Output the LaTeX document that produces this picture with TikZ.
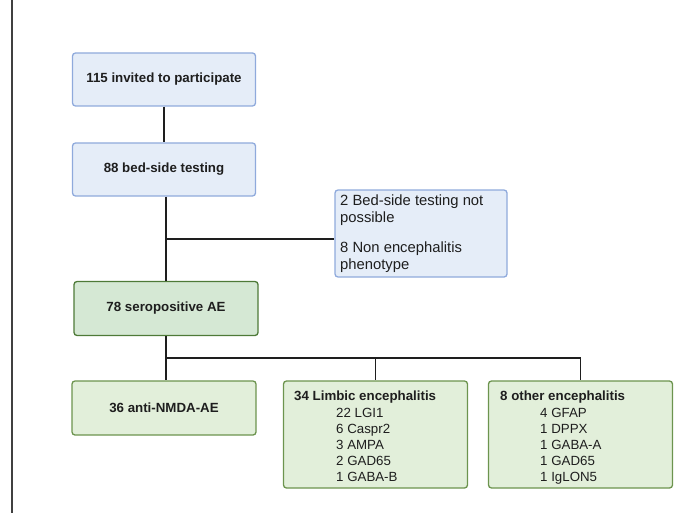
\documentclass[tikz,border=0pt]{standalone}
\usepackage{fontspec}
\setmainfont{Liberation Sans}
\definecolor{fillblue}{RGB}{229,237,248}
\definecolor{lineblue}{RGB}{143,170,220}
\definecolor{fillgreenA}{RGB}{213,232,212}
\definecolor{linegreenA}{RGB}{78,122,56}
\definecolor{fillgreenB}{RGB}{226,239,218}
\definecolor{linegreenB}{RGB}{108,148,78}
\definecolor{inkdark}{RGB}{30,30,30}
\tikzset{
  boxbase/.style={rounded corners=3pt, line width=1.3pt, inner sep=0pt, text=inkdark},
  bluebox/.style={boxbase, draw=lineblue, fill=fillblue, minimum width=183pt, minimum height=53pt, font=\bfseries\fontsize{13.3}{15}\selectfont},
  greenboxA/.style={boxbase, draw=linegreenA, fill=fillgreenA, minimum width=184pt, minimum height=54pt, font=\bfseries\fontsize{13.3}{15}\selectfont},
  greenboxB/.style={boxbase, draw=linegreenB, fill=fillgreenB, minimum width=184pt, minimum height=54pt, font=\bfseries\fontsize{13.3}{15}\selectfont},
  sidetext/.style={anchor=base west, align=left, inner sep=0pt, text=inkdark, font=\fontsize{14.8}{17}\selectfont},
  listtext/.style={anchor=base west, align=left, inner sep=0pt, text=inkdark, font=\fontsize{13.3}{16}\selectfont},
  headtext/.style={anchor=base west, inner sep=0pt, text=inkdark, font=\bfseries\fontsize{13.3}{16}\selectfont},
  conn/.style={draw=inkdark, line width=1.4pt}
}
\begin{document}
\begin{tikzpicture}[x=1pt,y=-1pt]
\useasboundingbox (0,0) rectangle (687,513);
% left frame line
\coordinate (ftop) at (12,0);
\coordinate (fbot) at (12,513);
\draw[draw=black!75, line width=1.6pt] (ftop) -- (fbot);

% boxes
\node[bluebox] (b1) at (164,79.5) {115 invited to participate};
\node[bluebox] (b2) at (164,169.5) {88 bed-side testing};
\node[bluebox, minimum width=172pt, minimum height=87pt] (side) at (421,233.5) {};
\node[sidetext] (sideA) at (340,222) {2 Bed-side testing not\\possible};
\node[sidetext] (sideB) at (340,269) {8 Non encephalitis\\phenotype};

\node[greenboxA] (b3) at (166,308.5) {78 seropositive AE};
\node[greenboxB] (b4) at (164,408) {36 anti-NMDA-AE};
\node[greenboxB, minimum height=107pt] (b5) at (375.5,434.5) {};
\node[greenboxB, minimum height=107pt] (b6) at (580.5,434.5) {};

\node[headtext] (h5) at (294,400) {34 Limbic encephalitis};
\node[listtext] (l5) at (336,481) {22 LGI1\\6 Caspr2\\3 AMPA\\2 GAD65\\1 GABA-B};
\node[headtext] (h6) at (500,400) {8 other encephalitis};
\node[listtext] (l6) at (540,481) {4 GFAP\\1 DPPX\\1 GABA-A\\1 GAD65\\1 IgLON5};

% connectors
\coordinate (j) at (166,239);
\coordinate (bus) at (166,358);
\draw[conn] (b1) -- (b2);
\draw[conn] (b3.north |- b2.south) -- (b3.north);
\draw[conn] (j) -- (j -| side.west);
\draw[conn] (b3.south) -- (bus);
\draw[conn] (bus) -| (b6.north);
\draw[conn] (bus -| b5.north) -- (b5.north);
\draw[conn] (bus) -- (bus |- b4.north);
\end{tikzpicture}
\end{document}
